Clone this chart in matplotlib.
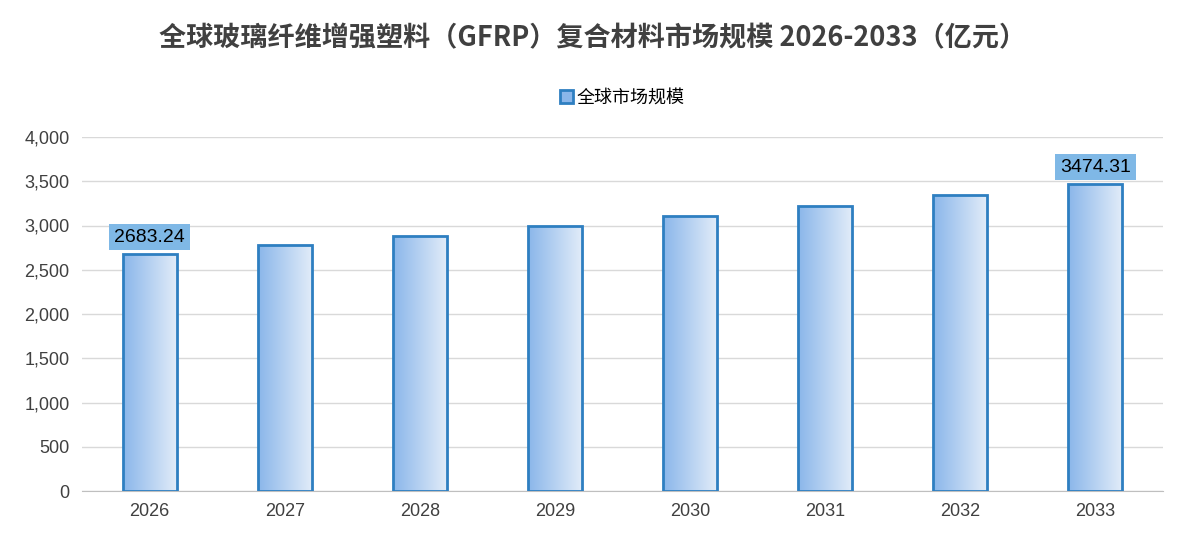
import matplotlib
matplotlib.use("Agg")
import matplotlib.pyplot as plt
import numpy as np
from matplotlib.colors import LinearSegmentedColormap

plt.rcParams['font.family'] = ['Noto Sans CJK SC', 'DejaVu Sans']

years = ["2026", "2027", "2028", "2029", "2030", "2031", "2032", "2033"]
values = [2683.24, 2780, 2881, 2994, 3107, 3220, 3345, 3474.31]
labeled = {0: "2683.24", 7: "3474.31"}
title = "全球玻璃纤维增强塑料（GFRP）复合材料市场规模 2026-2033（亿元）"
series = "全球市场规模"

fig = plt.figure(figsize=(11.86, 5.38), dpi=100)
ax = fig.add_axes([82/1186, 1-491/538, (1163-82)/1186, (491-137)/538])
x = np.arange(len(years))
bars = ax.bar(x, values, width=0.4, color='none', edgecolor='#2e7fc1', linewidth=2, zorder=3, label=series)
cmap = LinearSegmentedColormap.from_list('g', ['#8ab6ea', '#e3edf9'])
grad = np.linspace(0, 1, 256).reshape(1, -1)
for b in bars:
    x0, y0, w, h = b.get_x(), b.get_y(), b.get_width(), b.get_height()
    im = ax.imshow(grad, cmap=cmap, extent=[x0, x0+w, y0, y0+h], aspect='auto', zorder=2)
    im.set_clip_path(b)
for i, t in labeled.items():
    ax.text(x[i], values[i] + 90, t, ha='center', va='bottom', fontsize=14, family='Liberation Sans',
            bbox=dict(boxstyle='square,pad=0.25', fc='#7fb8e6', ec='none'), zorder=4)
ax.set_xlim(-0.5, len(years) - 0.5)
ax.set_ylim(0, 4000)
ax.set_yticks(range(0, 4001, 500))
ax.set_yticklabels([f"{v:,}" for v in range(0, 4001, 500)], fontsize=13, family='Liberation Sans', color='#404040')
ax.set_xticks(x)
ax.set_xticklabels(years, fontsize=13, family='Liberation Sans', color='#404040')
ax.grid(axis='y', color='#d9d9d9', linewidth=1, zorder=0)
for s in ['top', 'right', 'left']:
    ax.spines[s].set_visible(False)
ax.spines['bottom'].set_color('#bfbfbf')
ax.tick_params(length=0, pad=9)
fig.text(0.5, 1-38/538, title, ha='center', va='center', fontsize=19.5, fontweight='bold', color='#404040')
leg = ax.legend(loc='center', bbox_to_anchor=(0.5, 1 + (137-98)/354), frameon=False, fontsize=13,
                handlelength=0.7, handleheight=0.7, handletextpad=0.2)
for p in leg.get_patches():
    p.set_facecolor('#8ab6ea')
fig.savefig("out.png", dpi=100)
